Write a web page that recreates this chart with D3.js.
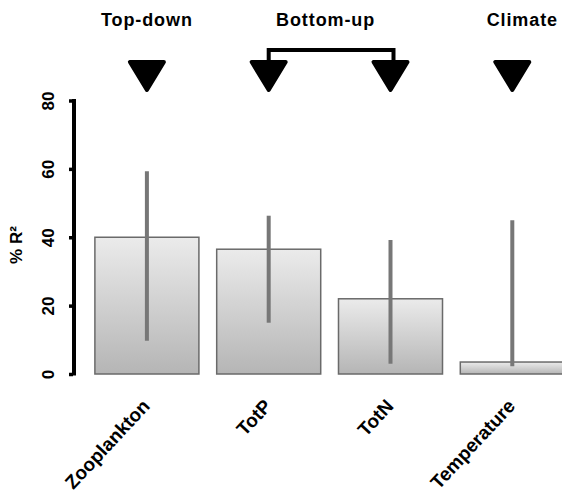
<!DOCTYPE html>
<html>
<head>
<meta charset="utf-8">
<script src="https://cdn.jsdelivr.net/npm/d3@7"></script>
<style>
html,body{margin:0;padding:0;background:#fff;}
svg{display:block;font-family:"Liberation Sans",Arial,Helvetica,sans-serif;}
</style>
</head>
<body>
<svg id="chart" width="562" height="497"></svg>
<script>
const categories = ["Zooplankton", "TotP", "TotN", "Temperature"];
const values = [40, 36.5, 22, 3.5];
const errLow = [9.7, 15, 3, 2.3];
const errHigh = [59.3, 46.3, 39.2, 45];
const yTicks = [0, 20, 40, 60, 80];
const groupLabels = ["Top-down", "Bottom-up", "Climate"];
const groupMembers = [["Zooplankton"], ["TotP", "TotN"], ["Temperature"]];
const yTitle = "% R²";

const svg = d3.select("#chart");

const x = d3.scaleBand().domain(categories)
  .range([86, 86 + 4 * 121.8]).paddingInner(0.146).paddingOuter(0.073);
const y = d3.scaleLinear().domain([0, 80]).range([374, 100.5]);
const cx = c => x(c) + x.bandwidth() / 2;

// gradient
const defs = svg.append("defs");
const g = defs.append("linearGradient").attr("id", "barGrad")
  .attr("x1", 0).attr("y1", 0).attr("x2", 0).attr("y2", 1);
g.append("stop").attr("offset", "0%").attr("stop-color", "#ebebeb");
g.append("stop").attr("offset", "100%").attr("stop-color", "#b5b5b5");

// bars
svg.append("g").selectAll("rect").data(categories).join("rect")
  .attr("x", d => x(d))
  .attr("y", (d, i) => y(values[i]))
  .attr("width", x.bandwidth())
  .attr("height", (d, i) => y(0) - y(values[i]))
  .attr("fill", "url(#barGrad)")
  .attr("stroke", "#6a6a6a")
  .attr("stroke-width", 1.5);

// error bars
svg.append("g").selectAll("line").data(categories).join("line")
  .attr("x1", d => cx(d)).attr("x2", d => cx(d))
  .attr("y1", (d, i) => y(errLow[i]))
  .attr("y2", (d, i) => y(errHigh[i]))
  .attr("stroke", "#777")
  .attr("stroke-width", 4);

// y axis
const yAxis = d3.axisLeft(y).tickValues(yTicks).tickSize(5).tickPadding(0);
const ax = svg.append("g").attr("transform", "translate(74,0)").call(yAxis);
ax.select(".domain").attr("stroke", "#000").attr("stroke-width", 4)
  .attr("d", `M0,${y(80) - 1.5}V${y(0) + 1.5}`);
ax.selectAll(".tick line").attr("stroke", "#000").attr("stroke-width", 3.5).attr("x1", -1);
ax.selectAll(".tick text")
  .attr("font-size", 17).attr("font-weight", "bold").attr("fill", "#000")
  .attr("text-anchor", "middle")
  .attr("transform", "translate(-26,0) rotate(-90)")
  .attr("x", 0).attr("dy", "0.36em");

// y title
svg.append("text")
  .attr("transform", `translate(22,${245}) rotate(-90)`)
  .attr("text-anchor", "middle")
  .attr("font-size", 17).attr("font-weight", "bold")
  .text(yTitle);

// category labels
svg.append("g").selectAll("text").data(categories).join("text")
  .attr("transform", d => `translate(${cx(d) + 4},407) rotate(-47)`)
  .attr("text-anchor", "end")
  .attr("font-size", 19).attr("font-weight", "bold")
  .text(d => d);

// group labels, triangles, bracket
const groupDx = [0, -4, 10];
const triTop = 60, triH = 32, triW = 38;
groupLabels.forEach((lab, gi) => {
  const mem = groupMembers[gi];
  const mid = (cx(mem[0]) + cx(mem[mem.length - 1])) / 2;
  svg.append("text")
    .attr("x", mid + groupDx[gi]).attr("y", 26)
    .attr("text-anchor", "middle")
    .attr("font-size", 18).attr("font-weight", "bold")
    .attr("letter-spacing", 0.9)
    .text(lab);
  mem.forEach(c => {
    const c0 = cx(c);
    svg.append("path")
      .attr("d", `M${c0 - triW / 2 + 2},${triTop + 2}H${c0 + triW / 2 - 2}L${c0},${triTop + triH - 2}Z`)
      .attr("fill", "#000").attr("stroke", "#000")
      .attr("stroke-width", 4).attr("stroke-linejoin", "round");
  });
  if (mem.length > 1) {
    const a = cx(mem[0]), b = cx(mem[mem.length - 1]) + 3;
    svg.append("path")
      .attr("d", `M${a},${triTop + 2}V50H${b}V${triTop + 2}`)
      .attr("fill", "none").attr("stroke", "#000").attr("stroke-width", 4);
  }
});
</script>
</body>
</html>
